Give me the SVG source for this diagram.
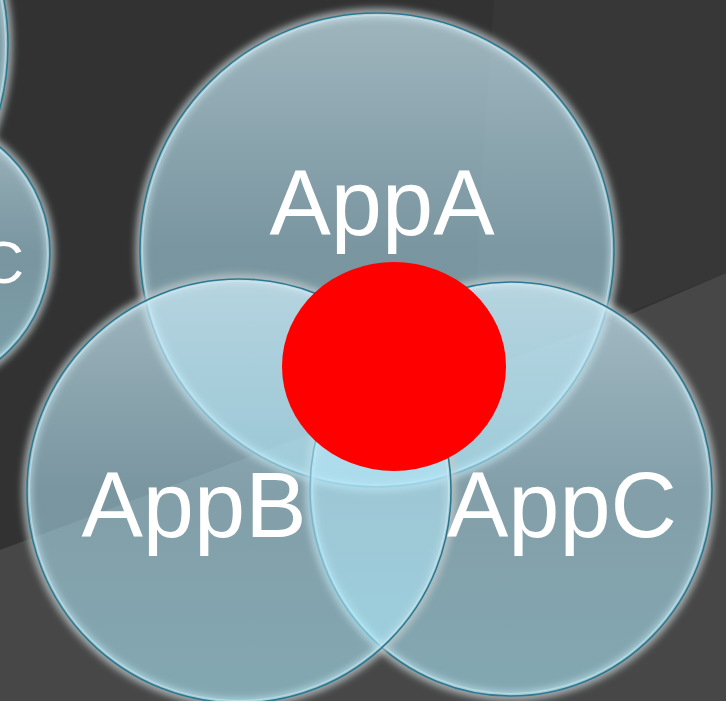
<svg xmlns="http://www.w3.org/2000/svg" width="726" height="701" viewBox="0 0 726 701">
  <style>
    .lbl { font-family: "Liberation Sans", Arial, sans-serif; fill: #ffffff; }
    .big { font-size: 92px; text-anchor: middle; }
    .edge { fill: none; stroke: #2b7990; stroke-width: 1.6; }
    .hi { fill: none; stroke: #d4eef6; stroke-width: 1.2; stroke-opacity: 0.5; }
    .glow { fill: none; stroke: #c4cdd0; stroke-width: 9; stroke-opacity: 0.8; filter: url(#blur); }
  </style>
  <defs>
    <filter id="blur" x="-20%" y="-20%" width="140%" height="140%">
      <feGaussianBlur stdDeviation="3.5"/>
    </filter>
    <linearGradient id="glass" x1="0" y1="0" x2="0" y2="1">
      <stop offset="0" stop-color="#cfeefa" stop-opacity="0.7"/>
      <stop offset="0.5" stop-color="#b4e7f9" stop-opacity="0.55"/>
      <stop offset="1" stop-color="#aeeeff" stop-opacity="0.58"/>
    </linearGradient>
  </defs>

  <!-- background -->
  <rect x="0" y="0" width="726" height="701" fill="#323232"/>
  <polygon points="494,0 726,0 726,273 472,376 480,200" fill="#373737"/>
  <polygon points="0,550 633,313 726,273 726,701 0,701" fill="#474747"/>

  <!-- left partial circles -->
  <g id="leftTop">
    <circle class="glow" cx="-242" cy="45" r="250"/>
    <circle cx="-242" cy="45" r="250" fill="url(#glass)"/>
    <circle class="hi" cx="-242" cy="45" r="247.5"/>
    <circle class="edge" cx="-242" cy="45" r="250"/>
  </g>
  <g id="leftC">
    <circle class="glow" cx="-87" cy="253" r="137"/>
    <circle cx="-87" cy="253" r="137" fill="url(#glass)"/>
    <circle class="hi" cx="-87" cy="253" r="134.5"/>
    <circle class="edge" cx="-87" cy="253" r="137"/>
    <text class="lbl" x="24" y="283" font-size="60" text-anchor="end">C</text>
  </g>

  <g id="appA">
    <circle class="glow" cx="377" cy="250" r="237"/>
    <circle cx="377" cy="250" r="237" fill="url(#glass)"/>
    <circle class="hi" cx="377" cy="250" r="234.5"/>
    <circle class="edge" cx="377" cy="250" r="237"/>
  </g>
  <g id="appC">
    <ellipse class="glow" cx="511" cy="489" rx="201" ry="207"/>
    <ellipse cx="511" cy="489" rx="201" ry="207" fill="url(#glass)"/>
    <ellipse class="hi" cx="511" cy="489" rx="198.5" ry="204.5"/>
    <ellipse class="edge" cx="511" cy="489" rx="201" ry="207"/>
  </g>
  <g id="appB">
    <circle class="glow" cx="239" cy="491" r="212"/>
    <circle cx="239" cy="491" r="212" fill="url(#glass)"/>
    <circle class="hi" cx="239" cy="491" r="209.5"/>
    <circle class="edge" cx="239" cy="491" r="212"/>
  </g>

  <g id="center">
    <ellipse cx="394" cy="366.5" rx="112" ry="104.5" fill="#ff0000"/>
  </g>

  <g id="labels">
    <text class="lbl big" x="382" y="235">AppA</text>
    <text class="lbl big" x="194" y="537">AppB</text>
    <text class="lbl big" x="562" y="537">AppC</text>
  </g>
</svg>
